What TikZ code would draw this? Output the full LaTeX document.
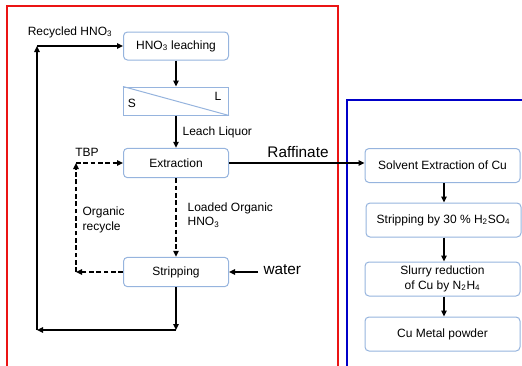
\documentclass[tikz,border=0pt]{standalone}
\usepackage{fontspec}
\setmainfont{Liberation Sans}
\usetikzlibrary{arrows.meta}
\definecolor{BoxLine}{RGB}{150,180,222}
\definecolor{FrameRed}{RGB}{235,20,20}
\definecolor{FrameBlue}{RGB}{0,0,200}

\begin{document}
\begin{tikzpicture}[
	x=0.75pt, y=-0.75pt,
	procbox/.style={
		draw=BoxLine,
		line width=0.75pt,
		rectangle,
		rounded corners=3pt,
		fill=white,
		text centered,
		inner sep=0pt,
		font=\fontsize{9}{11}\selectfont
	},
	smallbox/.style={procbox, minimum width=78.75pt, minimum height=22pt},
	widebox/.style={procbox, minimum width=116.25pt, minimum height=25.5pt, align=center},
	flow/.style={
		-{Triangle[length=4.5pt,width=4pt]},
		line width=1.25pt,
		draw=black
	},
	recycle/.style={flow, dash pattern=on 3.5pt off 2pt},
	lbl/.style={font=\fontsize{9}{11}\selectfont, inner sep=1pt},
	biglbl/.style={font=\fontsize{11.5}{13}\selectfont, inner sep=1pt}
	]
	\useasboundingbox (0,0) rectangle (522,365);
	% frames
	\draw[FrameRed, line width=1.5pt] (7,375) -- (7,6) -- (338,6) -- (338,375);
	\draw[FrameBlue, line width=1.5pt] (347,375) -- (347,100) -- (530,100);

	% left column
	\node[smallbox, minimum height=21pt] (leach) at (176,46) {HNO\textsubscript{3} leaching};
	\node[smallbox, rounded corners=0pt, minimum height=21pt] (sl) at (176,101) {};
	\draw[BoxLine, line width=0.75pt] (sl.north west) -- (sl.south east);
	\node[lbl] (s) at (132,103) {S};
	\node[lbl] (l) at (218,96) {L};
	\node[smallbox] (extr) at (176,163) {Extraction};
	\node[smallbox] (strip) at (176,272) {Stripping};

	% right column
	\node[widebox] (sx) at (442.5,165.5) {Solvent Extraction of Cu};
	\node[widebox] (s30) at (443.5,220) {Stripping by 30 \% H\textsubscript{2}SO\textsubscript{4}};
	\node[widebox] (slurry) at (442.5,279) {Slurry reduction\\of Cu by N\textsubscript{2}H\textsubscript{4}};
	\node[widebox] (cu) at (442.5,334) {Cu Metal powder};

	% free ends
	\coordinate (dn) at (176,330);
	\coordinate (lc) at (37,330);
	\coordinate (tc) at (37,46);
	\coordinate (orl) at (76,272);
	\coordinate (ort) at (76,163);
	\coordinate (wt) at (258,272);

	% labels
	\node[lbl] (rec) at (70,32) {Recycled HNO\textsubscript{3}};
	\node[lbl] (tbp) at (87,152) {TBP};
	\node[lbl, anchor=west, align=left] (orgrec) at (81,220) {Organic\\recycle};
	\node[lbl, anchor=west, align=left] (loaded) at (186,215) {Loaded Organic\\HNO\textsubscript{3}};
	\node[lbl, anchor=west] (liq) at (181,132) {Leach Liquor};
	\node[biglbl] (raf) at (298,152) {Raffinate};
	\node[biglbl, anchor=west] (water) at (262,270) {water};

	% main flow
	\draw[flow] (leach) -- (sl);
	\draw[flow] (sl) -- (extr);
	\draw[recycle] (extr) -- (strip);
	\draw[flow] (strip) -- (dn);
	\draw[flow] (dn) -- (lc);
	\draw[flow] (lc) -- (tc);
	\draw[flow] (tc) -- (leach.west);
	\draw[recycle] (strip.west) -- (orl);
	\draw[recycle] (orl) -- (ort);
	\draw[recycle] (ort) -- (extr.west);
	\draw[flow] (wt) -- (strip.east);
	\draw[flow] (extr.east) -- (extr.east -| sx.west);

	% copper line
	\draw[flow] (sx.south -| 444,0) -- (s30.north -| 444,0);
	\draw[flow] (s30.south -| 444,0) -- (slurry.north -| 444,0);
	\draw[flow] (slurry.south -| 444,0) -- (cu.north -| 444,0);
\end{tikzpicture}
\end{document}
